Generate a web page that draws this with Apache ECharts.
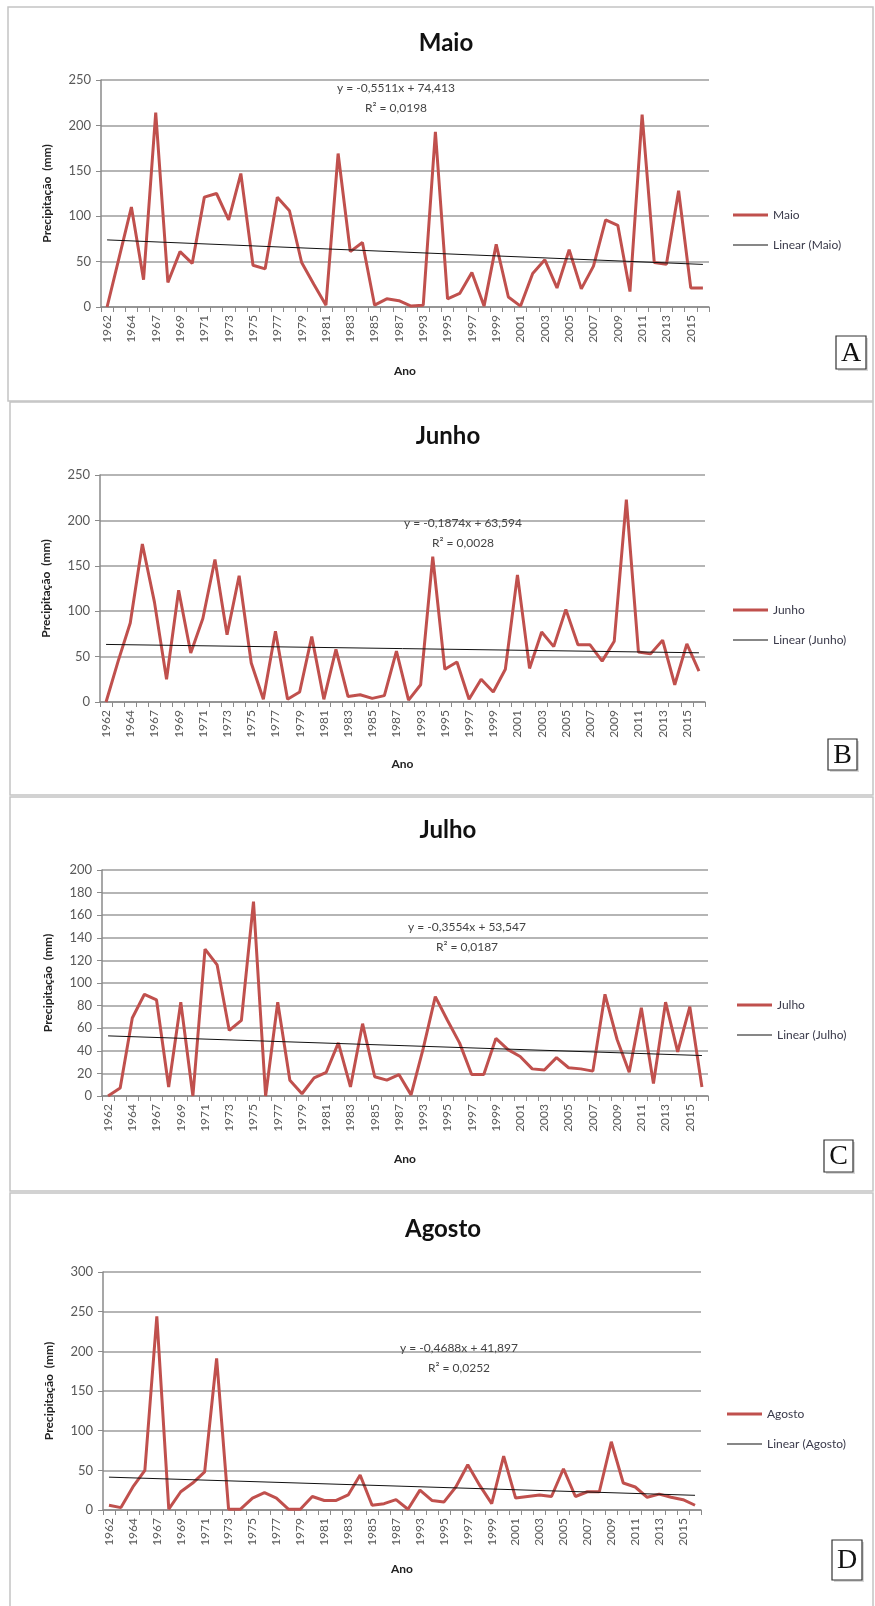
<!DOCTYPE html>
<html><head><meta charset="utf-8">
<script src="https://cdn.jsdelivr.net/npm/echarts@6/dist/echarts.min.js"></script>
<style>html,body{margin:0;padding:0;background:#fff}#c{width:875px;height:1606px}</style>
</head><body><div id="c"></div>
<script>
// Categories (years present in the series)
const years = ['1962','1963','1964','1965','1967','1968','1969','1970','1971','1972','1973','1974','1975','1976','1977','1978','1979','1980','1981','1982','1983','1984','1985','1986','1987','1988','1993','1994','1995','1996','1997','1998','1999','2000','2001','2002','2003','2004','2005','2006','2007','2008','2009','2010','2011','2012','2013','2014','2015','2016'];

// Precipitation (mm)
const maio   = [0,55,110,30,214,27,61,48,121,125,96,147,46,42,121,106,49,25,2,169,61,71,2,9,7,1,2,193,9,15,38,1,69,11,1,37,52,21,63,20,45,96,90,17,212,49,47,128,21,21];
const junho  = [0,45,87,174,110,25,123,54,92,157,74,139,43,3,78,3,11,72,3,58,6,8,4,7,56,2,19,160,36,44,3,25,11,36,140,37,77,61,102,63,63,45,67,223,55,53,68,19,64,34];
const julho  = [0,7,69,90,85,8,83,0,130,116,58,67,172,0,83,14,2,16,21,47,8,64,17,14,19,1,42,88,67,47,19,19,51,41,35,24,23,34,25,24,22,90,50,21,78,11,83,39,79,8];
const agosto = [6,3,29,50,244,1,23,34,48,191,1,1,15,22,15,1,1,17,12,12,19,44,6,8,13,1,25,12,10,29,57,31,8,68,15,17,19,17,52,17,23,23,86,34,29,16,20,16,13,6];

// Linear trend lines: value at first and last year
const maioTrend   = [73.9, 46.9];
const junhoTrend  = [63.4, 54.2];
const julhoTrend  = [53.2, 35.8];
const agostoTrend = [41.4, 18.5];

const panelNames = ['Maio','Junho','Julho','Agosto'];
const equations  = ['y = -0,5511x + 74,413','y = -0,1874x + 63,594','y = -0,3554x + 53,547','y = -0,4688x + 41,897'];
const r2Labels   = ['R² = 0,0198','R² = 0,0028','R² = 0,0187','R² = 0,0252'];
const letters    = ['A','B','C','D'];
const yMax  = [250,250,200,300];
const yStep = [50,50,20,50];

const seriesData  = [maio, junho, julho, agosto];
const trendData   = [maioTrend, junhoTrend, julhoTrend, agostoTrend];

// Layout (pixels)
const grids = [
  {left:101, top:80,   width:608, height:227},
  {left:100, top:475,  width:605, height:227},
  {left:102, top:870,  width:606, height:226},
  {left:103, top:1272, width:598, height:238}
];
const titlePos = [[446,43],[448,436],[448,830],[443,1229]];
const eqPos    = [[396,88],[463,523],[467,927],[459,1348]];
const legendPos= [[733,209],[733,604],[737,999],[727,1408]];
const boxPos   = [[836,336,30,33],[828,739,29,31],[824,1140,29,32],[832,1540,30,40]];
const panelRect= [[8,7,865,394],[10,402,863,393],[10,797,863,394],[10,1193,863,420]];
const anoGap   = [58,56,57,53];

const FONT = 'Lato, "Open Sans", sans-serif';
const RED = '#C0504D';
const ICON_THICK = 'path://M0,0H35V3H0Z';
const ICON_THIN  = 'path://M0,0H35V1H0Z';

const option = {
  backgroundColor:'#fff',
  animation:false,
  textStyle:{fontFamily:FONT},
  grid: grids.map(g => Object.assign({containLabel:false}, g)),
  xAxis: grids.map((g,i)=>({
    type:'category', gridIndex:i, data:years, boundaryGap:true,
    name:'Ano', nameLocation:'middle', nameGap:anoGap[i],
    nameTextStyle:{fontFamily:FONT, fontSize:12, fontWeight:'bold', color:'#222'},
    axisLine:{show:true, lineStyle:{color:'#8a8a8a', width:1.5}},
    axisTick:{show:true, interval:0, length:5, lineStyle:{color:'#8a8a8a'}},
    axisLabel:{interval:1, rotate:90, margin:8, fontFamily:FONT, fontSize:12, color:'#595959'},
    splitLine:{show:false}
  })),
  yAxis: grids.map((g,i)=>({
    type:'value', gridIndex:i, min:0, max:yMax[i], interval:yStep[i],
    name:'Precipitação  (mm)', nameLocation:'middle', nameGap:48, nameRotate:90,
    nameTextStyle:{fontFamily:FONT, fontSize:12, fontWeight:'bold', color:'#222'},
    axisLine:{show:true, lineStyle:{color:'#8a8a8a', width:1.5}},
    axisTick:{show:true, length:5, lineStyle:{color:'#8a8a8a'}},
    axisLabel:{margin:10, fontFamily:FONT, fontSize:13, color:'#595959'},
    splitLine:{show:true, lineStyle:{color:'#9c9c9c', width:1.5}}
  })),
  legend: panelNames.map((n,i)=>({
    orient:'vertical', left:legendPos[i][0], top:legendPos[i][1],
    itemWidth:35, itemHeight:14, itemGap:18, padding:0,
    data:[{name:n, icon:ICON_THICK}, {name:'Linear ('+n+')', icon:ICON_THIN}],
    itemStyle:{borderWidth:0},
    textStyle:{fontFamily:FONT, fontSize:12, color:'#3a3a4a'}
  })),
  series: []
};

panelNames.forEach((n,i)=>{
  option.series.push({
    type:'line', name:n, xAxisIndex:i, yAxisIndex:i, data:seriesData[i],
    symbol:'none', lineStyle:{color:RED, width:3}, itemStyle:{color:RED}, z:3
  });
  option.series.push({
    type:'line', name:'Linear ('+n+')', xAxisIndex:i, yAxisIndex:i,
    data:[[0, trendData[i][0]], [years.length-1, trendData[i][1]]],
    symbol:'none', lineStyle:{color:'#111', width:1}, itemStyle:{color:'#111'}, z:4
  });
});

const graphic = [];
panelRect.forEach(r=>{
  graphic.push({type:'rect', z:-10, shape:{x:r[0], y:r[1], width:r[2], height:r[3]},
    style:{fill:null, stroke:'#c4c4c4', lineWidth:1.5}});
});
panelNames.forEach((n,i)=>{
  graphic.push({type:'text', z:10, style:{text:n, x:titlePos[i][0], y:titlePos[i][1],
    textAlign:'center', textVerticalAlign:'middle', fontFamily:FONT, fontSize:24, fontWeight:'bold', fill:'#111'}});
  graphic.push({type:'text', z:10, style:{text:equations[i], x:eqPos[i][0], y:eqPos[i][1],
    textAlign:'center', textVerticalAlign:'middle', fontFamily:FONT, fontSize:12, fill:'#444'}});
  graphic.push({type:'text', z:10, style:{text:r2Labels[i], x:eqPos[i][0], y:eqPos[i][1]+20,
    textAlign:'center', textVerticalAlign:'middle', fontFamily:FONT, fontSize:12, fill:'#444'}});
  const b = boxPos[i];
  graphic.push({type:'rect', z:9, shape:{x:b[0]+2, y:b[1]+2, width:b[2], height:b[3]},
    style:{fill:'#d8d8d8', stroke:null}});
  graphic.push({type:'rect', z:10, shape:{x:b[0], y:b[1], width:b[2], height:b[3]},
    style:{fill:'#fff', stroke:'#333', lineWidth:1.2}});
  graphic.push({type:'text', z:11, style:{text:letters[i], x:b[0]+b[2]/2, y:b[1]+b[3]/2+1,
    textAlign:'center', textVerticalAlign:'middle', fontFamily:'"Liberation Serif", serif', fontSize:28, fill:'#111'}});
});
option.graphic = graphic;

const chart = echarts.init(document.getElementById('c'), null, {renderer:'canvas'});
chart.setOption(option);
</script></body></html>
